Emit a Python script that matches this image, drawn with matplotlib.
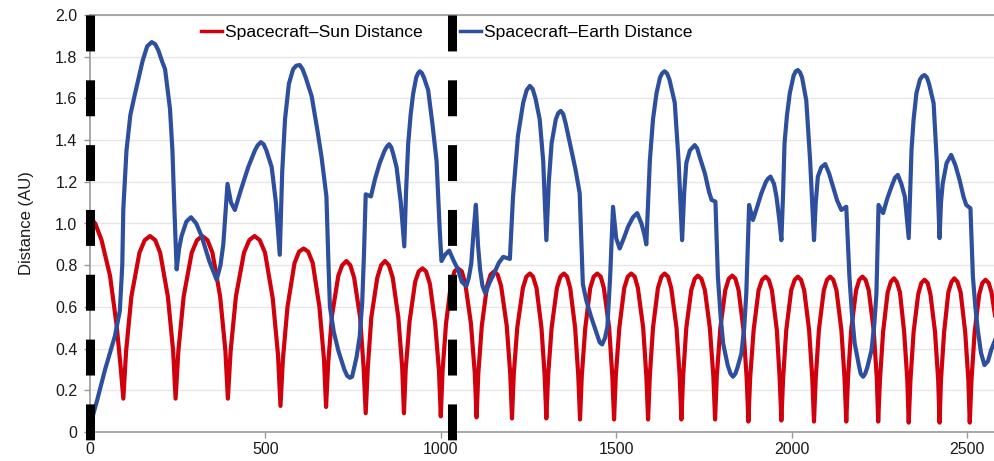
import numpy as np
import matplotlib
matplotlib.use('Agg')
import matplotlib.pyplot as plt

plt.rcParams['font.family'] = ['Liberation Sans', 'DejaVu Sans']

#########################
# Spacecraft-Sun (red)  #
#########################
sun_x = [0, 15, 33, 57, 76, 88, 95,
         103, 118, 141, 156, 171, 186, 200, 222, 237, 244,
         252, 267, 290, 305, 320, 335, 349, 371, 386, 393,
         401, 416, 439, 454, 469, 484, 499, 521, 536, 543,
         550, 563, 583, 596, 609, 622, 635, 654, 667, 673,
         679, 690, 708, 719, 731, 742, 753, 770, 780, 786,
         792, 802, 819, 830, 841, 852, 863, 879, 890, 895,
         900, 911, 927, 937, 948, 958, 969, 984, 995, 1000,
         1005, 1015, 1029, 1039, 1049, 1060, 1070, 1086, 1097, 1102,
         1107, 1117, 1132, 1142, 1152, 1162, 1172, 1188, 1198, 1203,
         1208, 1218, 1234, 1244, 1254, 1263, 1273, 1287, 1296, 1301,
         1306, 1316, 1331, 1341, 1351, 1360, 1369, 1383, 1392, 1397,
         1402, 1412, 1426, 1436, 1446, 1456, 1465, 1480, 1489, 1494,
         1499, 1509, 1523, 1533, 1543, 1553, 1562, 1577, 1586, 1591,
         1596, 1605, 1619, 1629, 1638, 1648, 1657, 1672, 1681, 1686,
         1691, 1700, 1714, 1724, 1733, 1743, 1753, 1767, 1777, 1782,
         1787, 1797, 1811, 1821, 1831, 1840, 1849, 1863, 1872, 1877,
         1882, 1892, 1906, 1916, 1926, 1935, 1944, 1958, 1966, 1971,
         1976, 1985, 1999, 2009, 2018, 2027, 2036, 2050, 2059, 2064,
         2069, 2078, 2092, 2101, 2110, 2119, 2128, 2142, 2151, 2156,
         2161, 2170, 2184, 2193, 2202, 2211, 2220, 2234, 2243, 2247,
         2252, 2261, 2274, 2283, 2292, 2300, 2309, 2321, 2330, 2334,
         2339, 2348, 2361, 2370, 2379, 2388, 2396, 2409, 2418, 2422,
         2426, 2435, 2447, 2456, 2464, 2473, 2482, 2495, 2504, 2508,
         2513, 2522, 2535, 2544, 2553, 2562, 2570, 2580]
sun_au = [1.03, 1.00, 0.92, 0.75, 0.51, 0.30, 0.16,
          0.39, 0.65, 0.86, 0.92, 0.94, 0.92, 0.86, 0.65, 0.39, 0.16,
          0.39, 0.65, 0.86, 0.92, 0.94, 0.92, 0.86, 0.65, 0.39, 0.16,
          0.39, 0.65, 0.86, 0.92, 0.94, 0.92, 0.86, 0.64, 0.37, 0.125,
          0.35, 0.60, 0.81, 0.865, 0.88, 0.865, 0.81, 0.60, 0.35, 0.12,
          0.33, 0.56, 0.75, 0.80, 0.82, 0.80, 0.74, 0.55, 0.31, 0.09,
          0.31, 0.55, 0.74, 0.80, 0.82, 0.80, 0.74, 0.55, 0.31, 0.09,
          0.30, 0.53, 0.72, 0.77, 0.785, 0.77, 0.71, 0.52, 0.29, 0.075,
          0.29, 0.52, 0.71, 0.77, 0.785, 0.77, 0.71, 0.52, 0.28, 0.07,
          0.28, 0.51, 0.70, 0.755, 0.77, 0.755, 0.70, 0.51, 0.28, 0.065,
          0.275, 0.50, 0.69, 0.745, 0.76, 0.745, 0.69, 0.50, 0.275, 0.065,
          0.27, 0.50, 0.69, 0.745, 0.76, 0.745, 0.69, 0.50, 0.27, 0.06,
          0.27, 0.50, 0.69, 0.745, 0.76, 0.745, 0.69, 0.50, 0.27, 0.06,
          0.27, 0.50, 0.69, 0.745, 0.76, 0.745, 0.69, 0.50, 0.27, 0.06,
          0.27, 0.50, 0.69, 0.745, 0.76, 0.745, 0.69, 0.50, 0.27, 0.06,
          0.27, 0.50, 0.68, 0.735, 0.75, 0.735, 0.68, 0.50, 0.27, 0.06,
          0.27, 0.50, 0.68, 0.735, 0.75, 0.735, 0.68, 0.49, 0.26, 0.05,
          0.26, 0.49, 0.68, 0.73, 0.745, 0.73, 0.68, 0.49, 0.26, 0.055,
          0.26, 0.49, 0.68, 0.73, 0.745, 0.73, 0.68, 0.49, 0.26, 0.05,
          0.26, 0.49, 0.68, 0.73, 0.745, 0.73, 0.68, 0.49, 0.26, 0.05,
          0.26, 0.49, 0.68, 0.73, 0.745, 0.73, 0.68, 0.49, 0.26, 0.05,
          0.25, 0.48, 0.67, 0.72, 0.737, 0.72, 0.67, 0.48, 0.25, 0.045,
          0.25, 0.48, 0.66, 0.715, 0.73, 0.715, 0.66, 0.48, 0.25, 0.045,
          0.25, 0.48, 0.67, 0.72, 0.737, 0.72, 0.67, 0.48, 0.25, 0.045,
          0.25, 0.48, 0.66, 0.715, 0.73, 0.715, 0.67, 0.56]

###########################
# Spacecraft-Earth (blue) #
###########################
earth_x = [0, 20, 43, 71, 85, 92, 95, 104, 115, 128, 150, 163, 176, 186, 195, 205, 214, 228, 235, 241, 247,
           254, 261, 275, 288, 303, 318, 340, 361, 372, 380, 392, 402, 413, 430, 451, 470, 478, 487, 495, 503, 518, 530, 541,
           548, 556, 567, 579, 588, 598, 606, 615, 632, 648, 660, 674, 679, 684, 695, 708, 725, 733, 741, 747, 752, 760,
           769, 776, 781, 786,
           801, 812, 826, 840, 847, 853, 859, 865, 874, 886, 896,
           901, 907, 914, 921, 930, 935, 940, 946, 952, 964, 976, 988, 997, 1002, 1012, 1024, 1037, 1049, 1060, 1073,
           1080, 1087, 1093, 1100, 1106, 1112, 1119, 1127, 1140, 1152, 1165, 1178, 1197,
           1206, 1220, 1235, 1245, 1254, 1262, 1270, 1282, 1292, 1301,
           1308, 1316, 1328, 1335, 1342, 1349, 1356, 1368, 1384, 1396, 1405, 1415, 1429, 1445, 1453, 1460, 1468, 1475,
           1483, 1491,
           1500, 1510, 1522, 1534, 1548, 1560, 1572, 1580, 1586,
           1591, 1596, 1605, 1615, 1625, 1631, 1638, 1645, 1652, 1667, 1678, 1688,
           1694, 1700, 1710, 1724, 1731, 1738, 1753, 1765, 1772, 1783, 1790, 1798, 1805, 1818, 1826, 1833, 1840, 1846,
           1857, 1865, 1871, 1879,
           1890, 1902, 1914, 1927, 1933, 1940, 1950, 1957, 1965, 1971,
           1976, 1980, 1987, 1995, 2006, 2012, 2018, 2024, 2030, 2042, 2053, 2064,
           2069, 2075, 2085, 2096, 2107, 2118, 2130, 2142, 2156, 2165, 2172, 2180, 2192, 2197, 2204, 2210, 2216, 2228,
           2236, 2242, 2248,
           2261, 2273, 2285, 2295, 2303, 2313, 2323, 2334,
           2338, 2342, 2348, 2356, 2366, 2372, 2379, 2386, 2392, 2405, 2414, 2422,
           2426, 2431, 2442, 2455, 2467, 2479, 2490, 2498, 2510, 2517, 2524, 2531, 2540, 2550, 2560, 2569, 2580]
earth_au = [0.03, 0.15, 0.30, 0.46, 0.58, 0.80, 1.07, 1.35, 1.52, 1.62, 1.78, 1.85, 1.87, 1.86, 1.83, 1.78, 1.74, 1.55, 1.35, 1.05, 0.78,
            0.88, 0.94, 1.01, 1.03, 1.00, 0.94, 0.82, 0.73, 0.80, 0.90, 1.19, 1.10, 1.065, 1.16, 1.27, 1.35, 1.375, 1.39, 1.38, 1.35, 1.27, 1.10, 0.85,
            1.25, 1.50, 1.67, 1.74, 1.757, 1.76, 1.74, 1.70, 1.61, 1.45, 1.32, 1.13, 0.85, 0.60, 0.48, 0.39, 0.30, 0.27, 0.26, 0.265, 0.30, 0.36,
            0.46, 0.62, 0.85, 1.14,
            1.13, 1.21, 1.29, 1.35, 1.37, 1.38, 1.365, 1.33, 1.27, 1.10, 0.89,
            1.15, 1.38, 1.52, 1.62, 1.70, 1.72, 1.73, 1.722, 1.70, 1.64, 1.48, 1.30, 0.97, 0.82, 0.85, 0.87, 0.82, 0.78, 0.72, 0.70,
            0.74, 0.81, 0.95, 1.09, 0.90, 0.78, 0.70, 0.665, 0.72, 0.76, 0.81, 0.84, 0.83,
            1.13, 1.42, 1.58, 1.64, 1.66, 1.645, 1.60, 1.50, 1.30, 0.92,
            1.20, 1.385, 1.50, 1.53, 1.54, 1.525, 1.48, 1.385, 1.26, 1.145, 0.71, 0.63, 0.55, 0.47, 0.43, 0.42, 0.45, 0.505,
            0.75, 1.08,
            0.93, 0.88, 0.93, 0.985, 1.03, 1.05, 1.00, 0.95, 0.90,
            1.10, 1.30, 1.50, 1.625, 1.70, 1.72, 1.73, 1.72, 1.69, 1.58, 1.30, 0.92,
            1.15, 1.29, 1.35, 1.376, 1.36, 1.32, 1.24, 1.15, 1.113, 1.105, 0.745, 0.55, 0.425, 0.32, 0.28, 0.265, 0.28, 0.31,
            0.377, 0.50, 0.665, 1.089,
            1.017, 1.08, 1.145, 1.20, 1.215, 1.225, 1.19, 1.129, 1.02, 0.92,
            1.15, 1.385, 1.52, 1.625, 1.71, 1.73, 1.736, 1.725, 1.70, 1.59, 1.30, 0.92,
            1.10, 1.225, 1.27, 1.285, 1.24, 1.177, 1.11, 1.065, 1.08, 0.745, 0.57, 0.425, 0.32, 0.28, 0.265, 0.28, 0.31, 0.393,
            0.52, 0.665, 1.089,
            1.05, 1.12, 1.177, 1.22, 1.233, 1.19, 1.129, 0.93,
            1.15, 1.353, 1.50, 1.625, 1.69, 1.705, 1.712, 1.70, 1.67, 1.577, 1.30, 0.93,
            1.10, 1.193, 1.29, 1.329, 1.28, 1.209, 1.13, 1.089, 1.073, 0.745, 0.60, 0.489, 0.38, 0.321, 0.34, 0.393, 0.44]

# phase boundaries (black dashed)
marker_x = [0, 1033]

x_ticks = [0, 500, 1000, 1500, 2000, 2500]
y_ticks = [0, 0.2, 0.4, 0.6, 0.8, 1.0, 1.2, 1.4, 1.6, 1.8, 2.0]
y_tick_labels = ['0', '0.2', '0.4', '0.6', '0.8', '1.0', '1.2', '1.4', '1.6', '1.8', '2.0']

red = '#d0000c'
blue = '#2e4f9d'
axis_grey = '#9a9a9a'

fig = plt.figure(figsize=(9.95, 4.61), dpi=100)
ax = fig.add_axes([90 / 995, 29 / 461, 905 / 995, 417 / 461])

ax.plot(sun_x, sun_au, color=red, lw=3, solid_joinstyle='round',
        label='Spacecraft\u2013Sun Distance', zorder=3)
ax.plot(earth_x, earth_au, color=blue, lw=3, solid_joinstyle='round',
        label='Spacecraft\u2013Earth Distance', zorder=4)

for mx in marker_x:
    ax.plot([mx, mx], [2.0, -0.038], color='black', lw=6.5,
            ls=(0, (3.98, 3.2)), clip_on=False, zorder=10)

ax.set_xlim(0, 2580)
ax.set_ylim(0, 2.0)
ax.set_xticks(x_ticks)
ax.set_yticks(y_ticks)
ax.set_yticklabels(y_tick_labels)
ax.grid(axis='y', color='#e6e6e6', lw=1)
ax.set_axisbelow(True)

for side in ['left', 'bottom', 'top']:
    ax.spines[side].set_color(axis_grey)
    ax.spines[side].set_linewidth(1.2)
ax.spines['right'].set_visible(False)
ax.tick_params(axis='both', colors=axis_grey, labelcolor='#1a1a1a',
               labelsize=11.5, length=4, width=1)
ax.tick_params(axis='y', pad=5)
ax.tick_params(axis='x', pad=3)

ax.set_ylabel('Distance (AU)', fontsize=12, color='#1a1a1a',
              family=['Liberation Sans Narrow', 'Liberation Sans'],
              fontstretch='condensed', labelpad=15)

leg = ax.legend(loc='upper center', bbox_to_anchor=(0.394, 1.015), ncol=2,
                frameon=False, fontsize=12.6, handlelength=1.25,
                handletextpad=0.15, columnspacing=2.1)
for h in leg.legend_handles:
    h.set_linewidth(2.5)

plt.savefig('out.png', dpi=100)
